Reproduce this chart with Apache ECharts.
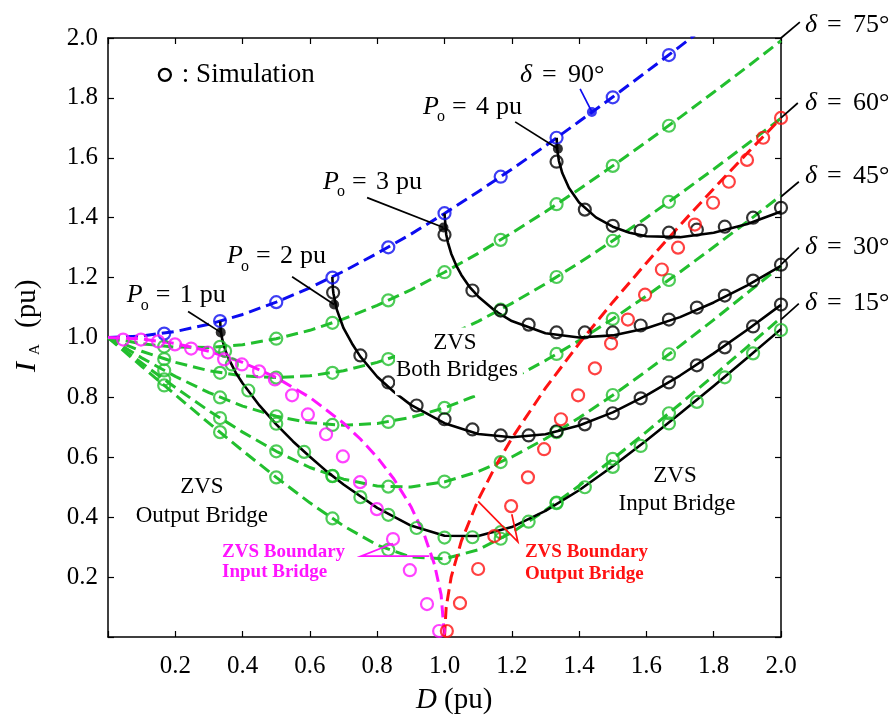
<!DOCTYPE html>
<html>
<head>
<meta charset="utf-8">
<script src="https://cdn.jsdelivr.net/npm/echarts@6/dist/echarts.min.js"></script>
<style>html,body{margin:0;padding:0;background:#fff}#c{width:893px;height:719px}</style>
</head>
<body>
<div id="c"></div>
<script>
// ---------------- data ----------------
const D_GRID = [0,0.1,0.2,0.3,0.4,0.5,0.6,0.7,0.8,0.9,1.0,1.1,1.2,1.3,1.4,1.5,1.6,1.7,1.8,1.9,2.0];
const I_D15 = [1,0.904,0.809,0.714,0.622,0.533,0.448,0.371,0.307,0.267,0.261,0.291,0.349,0.423,0.505,0.594,0.685,0.778,0.873,0.969,1.066];
const I_D30 = [1,0.915,0.833,0.755,0.684,0.620,0.566,0.527,0.504,0.501,0.518,0.552,0.601,0.662,0.732,0.807,0.888,0.972,1.059,1.149,1.239];
const I_D45 = [1,0.932,0.870,0.816,0.771,0.737,0.715,0.707,0.713,0.733,0.765,0.809,0.862,0.923,0.990,1.062,1.139,1.219,1.302,1.387,1.474];
const I_D60 = [1,0.954,0.917,0.889,0.872,0.866,0.872,0.889,0.917,0.954,1.000,1.054,1.114,1.179,1.249,1.323,1.400,1.480,1.562,1.646,1.732];
const I_D75 = [1,0.979,0.968,0.967,0.976,0.996,1.024,1.062,1.107,1.159,1.218,1.281,1.349,1.420,1.495,1.573,1.653,1.735,1.819,1.904,1.991];
const D_D90 = [0,0.1,0.2,0.3,0.4,0.5,0.6,0.7,0.8,0.9,1.0,1.1,1.2,1.3,1.4,1.5,1.6,1.7,1.8];
const I_D90 = [1,1.005,1.020,1.044,1.077,1.118,1.166,1.221,1.281,1.345,1.414,1.487,1.562,1.640,1.721,1.803,1.887,1.972,2.059];

const P1_D = [0.3333,0.335,0.34,0.35,0.36,0.38,0.4,0.45,0.5,0.55,0.6,0.65,0.7,0.8,0.9,1.0,1.1,1.2,1.3,1.4,1.5,1.6,1.7,1.8,1.9,2.0];
const P1_I = [1.054,1.023,0.991,0.953,0.926,0.882,0.847,0.773,0.710,0.653,0.602,0.553,0.509,0.431,0.372,0.338,0.337,0.367,0.421,0.490,0.570,0.656,0.746,0.838,0.932,1.028];
const P2_D = [0.6667,0.6683,0.67,0.68,0.7,0.725,0.75,0.8,0.85,0.9,1.0,1.1,1.2,1.3,1.4,1.5,1.6,1.7,1.8,1.9,2.0];
const P2_I = [1.202,1.163,1.147,1.093,1.031,0.980,0.936,0.869,0.818,0.775,0.714,0.678,0.667,0.677,0.706,0.750,0.807,0.873,0.947,1.026,1.109];
const P3_D = [1.0,1.005,1.01,1.02,1.035,1.05,1.075,1.1,1.15,1.2,1.3,1.4,1.5,1.6,1.7,1.8,1.9,2.0];
const P3_I = [1.414,1.345,1.318,1.280,1.240,1.209,1.168,1.137,1.089,1.055,1.014,1.000,1.007,1.031,1.068,1.117,1.174,1.239];
const P4_D = [1.3333,1.335,1.34,1.35,1.37,1.4,1.45,1.5,1.55,1.6,1.7,1.8,1.9,2.0];
const P4_I = [1.667,1.628,1.590,1.549,1.499,1.451,1.401,1.370,1.350,1.338,1.335,1.350,1.379,1.421];

const MAG_D = [0,0.1,0.2,0.3,0.4,0.5,0.6,0.7,0.75,0.8,0.85,0.9,0.94,0.97,0.99,1.0];
const MAG_I = [1,0.995,0.980,0.954,0.917,0.866,0.800,0.714,0.661,0.600,0.527,0.436,0.341,0.243,0.141,0];
const RED_D = [1.0,1.005,1.02,1.05,1.1,1.15,1.2,1.3,1.4,1.5,1.6,1.7,1.8,1.9,2.0];
const RED_I = [0,0.100,0.201,0.320,0.458,0.567,0.663,0.831,0.980,1.118,1.249,1.375,1.497,1.616,1.732];

// simulation circles
const SIM_D = [0.167,0.333,0.5,0.667,0.833,1.0,1.167,1.333,1.5,1.667];
const SIM_D15 = [0.840,0.684,0.533,0.396,0.291,0.263,0.328,0.449,0.595,0.747];
const SIM_D30 = [0.860,0.731,0.620,0.538,0.502,0.519,0.584,0.684,0.808,0.944];
const SIM_D45 = [0.890,0.800,0.737,0.708,0.718,0.765,0.843,0.945,1.062,1.192];
const SIM_D60 = [0.928,0.882,0.866,0.882,0.928,1.000,1.093,1.202,1.323,1.453];
const SIM_D75 = [0.970,0.969,0.996,1.049,1.124,1.218,1.326,1.445,1.573,1.707];
const SIM_D90 = [1.013,1.055,1.118,1.200,1.301,1.415,1.537,1.667,1.802,1.943];

const SIM_P1_D = [0.348,0.368,0.417,0.5,0.583,0.667,0.75,0.833,0.917,1.0,1.083,1.167,1.25,1.333,1.417,1.5,1.583,1.667,1.75,1.833,1.917,2.0];
const SIM_P1_I = [0.955,0.910,0.823,0.712,0.618,0.537,0.467,0.408,0.364,0.332,0.333,0.350,0.385,0.447,0.500,0.568,0.638,0.713,0.785,0.867,0.947,1.025];
const SIM_P2_D = [0.669,0.75,0.833,0.917,1.0,1.083,1.167,1.25,1.333,1.417,1.5,1.583,1.667,1.75,1.833,1.917,2.0];
const SIM_P2_I = [1.150,0.940,0.850,0.773,0.727,0.693,0.673,0.673,0.687,0.710,0.747,0.797,0.850,0.907,0.967,1.037,1.110];
const SIM_P3_D = [1.0,1.083,1.167,1.25,1.333,1.417,1.5,1.583,1.667,1.75,1.833,1.917,2.0];
const SIM_P3_I = [1.343,1.157,1.090,1.043,1.017,1.017,1.017,1.040,1.060,1.100,1.140,1.190,1.243];
const SIM_P4_D = [1.333,1.417,1.5,1.583,1.667,1.75,1.833,1.917,2.0];
const SIM_P4_I = [1.587,1.427,1.373,1.357,1.350,1.360,1.370,1.400,1.433];

const SIM_MAG_D = [0.045,0.098,0.149,0.199,0.247,0.297,0.345,0.398,0.449,0.496,0.547,0.594,0.648,0.698,0.749,0.799,0.847,0.897,0.948,0.984];
const SIM_MAG_I = [0.993,0.993,0.987,0.977,0.963,0.950,0.927,0.910,0.887,0.860,0.807,0.743,0.677,0.603,0.517,0.427,0.327,0.223,0.110,0.020];
const SIM_RED_D = [1.007,1.046,1.100,1.148,1.198,1.248,1.296,1.346,1.397,1.447,1.495,1.545,1.596,1.646,1.694,1.744,1.798,1.845,1.899,1.947,2.0];
const SIM_RED_I = [0.020,0.113,0.227,0.337,0.437,0.533,0.627,0.727,0.807,0.897,0.980,1.060,1.143,1.227,1.300,1.377,1.450,1.520,1.593,1.667,1.733];

// marked operating points
const DOT_BLACK_D = [0.335,0.672,0.997,1.337];
const DOT_BLACK_I = [1.017,1.110,1.367,1.630];
const DOT_BLUE_D = [1.438];
const DOT_BLUE_I = [1.753];

// tick labels
const X_TICK_LABELS = ['','0.2','0.4','0.6','0.8','1.0','1.2','1.4','1.6','1.8','2.0'];
const Y_TICK_LABELS = ['','0.2','0.4','0.6','0.8','1.0','1.2','1.4','1.6','1.8','2.0'];

// annotation texts
const PO_VALUES = ['1','2','3','4'];
const DELTA_RIGHT = ['75°','60°','45°','30°','15°'];

// ---------------- chart ----------------
const FONT = "'Liberation Serif','Times New Roman',serif";
const GREEN = '#22bf2e', BLUE = '#0c0cf0', RED = '#ff1212', MAG = '#ff14ff';
const zip = (a,b) => a.map((x,k) => [x, b[k]]);
const DASH = [12,6];

function dashed(xs, ys, color){
  return {type:'line', data:zip(xs,ys), symbol:'none', showSymbol:false, smooth:false,
    lineStyle:{color, width:3, type:DASH, join:'round'}, z:3, silent:true};
}
function solid(xs, ys){
  return {type:'line', data:zip(xs,ys), symbol:'none', showSymbol:false, smooth:false,
    lineStyle:{color:'#000', width:2.6, join:'round'}, z:4, silent:true};
}
function sim(xs, ys, color){
  return {type:'scatter', data:zip(xs,ys), symbol:'circle', symbolSize:12,
    itemStyle:{color:'rgba(0,0,0,0)', borderColor:color, borderWidth:2.2}, z:6, silent:true};
}
function dots(xs, ys, color){
  return {type:'scatter', data:zip(xs,ys), symbol:'circle', symbolSize:10, itemStyle:{color}, z:7, silent:true};
}

const axisBase = {type:'value', min:0, max:2, interval:0.2, splitLine:{show:false},
  axisLine:{show:true, onZero:false, lineStyle:{color:'#000', width:1.5}},
  axisTick:{show:true, inside:true, length:6, lineStyle:{color:'#000', width:1.2}}};

const chart = echarts.init(document.getElementById('c'), null, {renderer:'canvas'});
chart.setOption({
  animation:false,
  backgroundColor:'#fff',
  grid:{left:108, right:112, top:38, bottom:82},
  xAxis:[
    Object.assign({}, axisBase, {position:'bottom', axisLabel:{show:true, margin:17, fontFamily:FONT, fontSize:25, color:'#000',
      formatter:v => X_TICK_LABELS[Math.round(v/0.2)]}}),
    Object.assign({}, axisBase, {position:'top', axisLabel:{show:false}})
  ],
  yAxis:[
    Object.assign({}, axisBase, {position:'left', axisLabel:{show:true, margin:10, fontFamily:FONT, fontSize:25, color:'#000',
      formatter:v => Y_TICK_LABELS[Math.round(v/0.2)]}}),
    Object.assign({}, axisBase, {position:'right', axisLabel:{show:false}})
  ],
  series:[
    dashed(D_GRID, I_D15, GREEN),
    dashed(D_GRID, I_D30, GREEN),
    dashed(D_GRID, I_D45, GREEN),
    dashed(D_GRID, I_D60, GREEN),
    dashed(D_GRID, I_D75, GREEN),
    dashed(D_D90, I_D90, BLUE),
    solid(P1_D, P1_I), solid(P2_D, P2_I), solid(P3_D, P3_I), solid(P4_D, P4_I),
    dashed(MAG_D, MAG_I, MAG),
    dashed(RED_D, RED_I, RED),
    sim(SIM_D, SIM_D15, GREEN), sim(SIM_D, SIM_D30, GREEN), sim(SIM_D, SIM_D45, GREEN),
    sim(SIM_D, SIM_D60, GREEN), sim(SIM_D, SIM_D75, GREEN), sim(SIM_D, SIM_D90, BLUE),
    sim(SIM_P1_D, SIM_P1_I, GREEN),
    sim(SIM_P2_D, SIM_P2_I, '#000'), sim(SIM_P3_D, SIM_P3_I, '#000'), sim(SIM_P4_D, SIM_P4_I, '#000'),
    sim(SIM_MAG_D, SIM_MAG_I, MAG), sim(SIM_RED_D, SIM_RED_I, RED),
    dots(DOT_BLACK_D, DOT_BLACK_I, '#000'), dots(DOT_BLUE_D, DOT_BLUE_I, BLUE)
  ]
});

// ---------------- annotations ----------------
const px = (d,i) => chart.convertToPixel({xAxisIndex:0, yAxisIndex:0}, [d,i]);
function T(x, y, text, size, extra){
  return {type:'text', x, y, z:110, silent:true,
    style:Object.assign({text, fontFamily:FONT, fontSize:size, fill:'#000', align:'left', verticalAlign:'middle'}, extra||{})};
}
const g = [];

// white box behind "ZVS Both Bridges"
const b0 = px(0.853, 1.033), b1 = px(1.233, 0.807);
g.push({type:'rect', z:100, silent:true, shape:{x:b0[0], y:b0[1], width:b1[0]-b0[0], height:b1[1]-b0[1]}, style:{fill:'#fff'}});

// leader lines (anchored in data coordinates)
const LEADERS = [
  [[[0.238,1.087],[0.335,1.017]], '#000'],
  [[[0.547,1.203],[0.672,1.110]], '#000'],
  [[[0.770,1.467],[0.997,1.367]], '#000'],
  [[[1.210,1.720],[1.337,1.630]], '#000'],
  [[[1.403,1.830],[1.438,1.753]], BLUE],
  [[[2.0,2.0],[2.056,2.053]], '#000'],
  [[[2.0,1.733],[2.050,1.783]], '#000'],
  [[[2.0,1.470],[2.053,1.520]], '#000'],
  [[[2.0,1.243],[2.053,1.300]], '#000'],
  [[[2.0,1.060],[2.053,1.113]], '#000'],
  [[[0.847,0.312],[0.752,0.270],[0.955,0.270]], MAG],
  [[[1.100,0.453],[1.218,0.318],[1.200,0.410]], RED]
];
LEADERS.forEach(([pts, color]) => {
  g.push({type:'polyline', z:105, silent:true, shape:{points:pts.map(p => px(p[0], p[1]))},
    style:{stroke:color, lineWidth:1.7, fill:null}});
});

// P_o labels
const PO_ANCHORS = [[0.056,1.140],[0.354,1.270],[0.639,1.520],[0.936,1.770]];
PO_ANCHORS.forEach((a,k) => {
  const [x,y] = px(a[0], a[1]);
  g.push(T(x, y, 'P', 26, {fontStyle:'italic'}));
  g.push(T(x+14, y+10, 'o', 16));
  g.push(T(x+29, y, '=', 26));
  g.push(T(x+53, y, PO_VALUES[k], 26));
  g.push(T(x+73, y, 'pu', 26));
});

// delta labels
function deltaLabel(d, i, val){
  const [x,y] = px(d,i);
  g.push(T(x, y, 'δ', 26, {fontStyle:'italic'}));
  g.push(T(x+22, y, '=', 26));
  g.push(T(x+48, y, val, 26));
}
deltaLabel(1.224, 1.877, '90°');
const DELTA_I = [2.043, 1.783, 1.537, 1.303, 1.113];
DELTA_RIGHT.forEach((v,k) => deltaLabel(2.071, DELTA_I[k], v));

// legend
const lg = px(0.169, 1.877);
g.push({type:'circle', z:110, silent:true, shape:{cx:lg[0], cy:lg[1], r:6}, style:{fill:'none', stroke:'#000', lineWidth:2.3}});
g.push(T(lg[0]+17, lg[1], ': Simulation', 27));

// region labels
function C(d, i, text, size, extra){ const [x,y] = px(d,i); return T(x, y, text, size, Object.assign({align:'center'}, extra||{})); }
g.push(C(1.031, 0.983, 'ZVS', 23), C(1.037, 0.893, 'Both Bridges', 23));
g.push(C(0.279, 0.500, 'ZVS', 23), C(0.279, 0.403, 'Output Bridge', 23));
g.push(C(1.685, 0.537, 'ZVS', 23), C(1.691, 0.443, 'Input Bridge', 23));
(function(){
  const m1 = px(0.339, 0.283), m2 = px(0.339, 0.217);
  g.push(T(m1[0], m1[1], 'ZVS Boundary', 19, {fill:MAG, fontWeight:'bold'}));
  g.push(T(m2[0], m2[1], 'Input Bridge', 19, {fill:MAG, fontWeight:'bold'}));
  const r1 = px(1.239, 0.283), r2 = px(1.239, 0.210);
  g.push(T(r1[0], r1[1], 'ZVS Boundary', 19, {fill:RED, fontWeight:'bold'}));
  g.push(T(r2[0], r2[1], 'Output Bridge', 19, {fill:RED, fontWeight:'bold'}));
})();

// axis titles
g.push(T(416, 700, 'D', 29, {fontStyle:'italic'}));
g.push(T(444, 700, '(pu)', 29));
g.push({type:'group', x:27, y:372, rotation:Math.PI/2, z:110, silent:true, children:[
  T(0, 0, 'I', 30, {fontStyle:'italic'}),
  T(17, 8, 'A', 15),
  T(44, 0, '(pu)', 29)
]});

chart.setOption({graphic:g});
</script>
</body>
</html>
